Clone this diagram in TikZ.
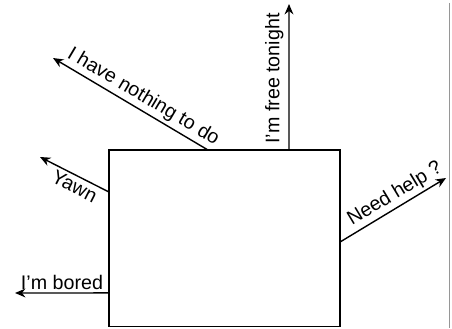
\documentclass[tikz,border=0pt]{standalone}
\usepackage{fontspec}
\setmainfont{Liberation Sans}
\usetikzlibrary{arrows.meta, positioning, calc}
\definecolor{cGrey}{RGB}{150,150,150}
\tikzset{
	blk/.style={rectangle, draw=black, line width=1pt, minimum width=5.775cm, minimum height=4.41cm, inner sep=0pt, outer sep=0pt},
	sig/.style={-{Stealth[length=2.6mm, width=2.2mm]}, line width=1pt},
	lbl/.style={font=\fontsize{14}{16}\selectfont, inner sep=2pt},
}
\begin{document}
\begin{tikzpicture}
	\useasboundingbox (0,0) rectangle (11.3,8.2);
	\node[blk] (box) at (5.6125,2.244) {};
	% free ends of the arrows
	\coordinate (tNothing) at (1.325,6.75);
	\coordinate (tFree) at (7.225,8.1);
	\coordinate (tYawn) at (1.0,4.275);
	\coordinate (tBored) at (0.375,0.875);
	\coordinate (tHelp) at (11.15,3.75);
	\draw[sig] ([xshift=2.475cm]box.north west) -- node[lbl, sloped, above, pos=0.46] {I have nothing to do} (tNothing);
	\draw[sig] ([xshift=4.5cm]box.north west) -- node[lbl, rotate=90, above, pos=0.49, inner sep=3.5pt] {I'm free tonight} (tFree);
	\draw[sig] ([yshift=-1.05cm]box.north west) -- node[lbl, sloped, below, pos=0.43] {Yawn} (tYawn);
	\draw[sig] ([yshift=0.8375cm]box.south west) -- node[lbl, above, pos=0.5] {I'm bored} (tBored);
	\draw[sig] ([yshift=-2.3cm]box.north east) -- node[lbl, sloped, above, pos=0.58] {Need help ?} (tHelp);
	% margin rule
	\coordinate (rTop) at (11.24,8.125);
	\coordinate (rBot) at (11.24,0);
	\draw[cGrey, line width=1pt] (rTop) -- (rBot);
\end{tikzpicture}
\end{document}
